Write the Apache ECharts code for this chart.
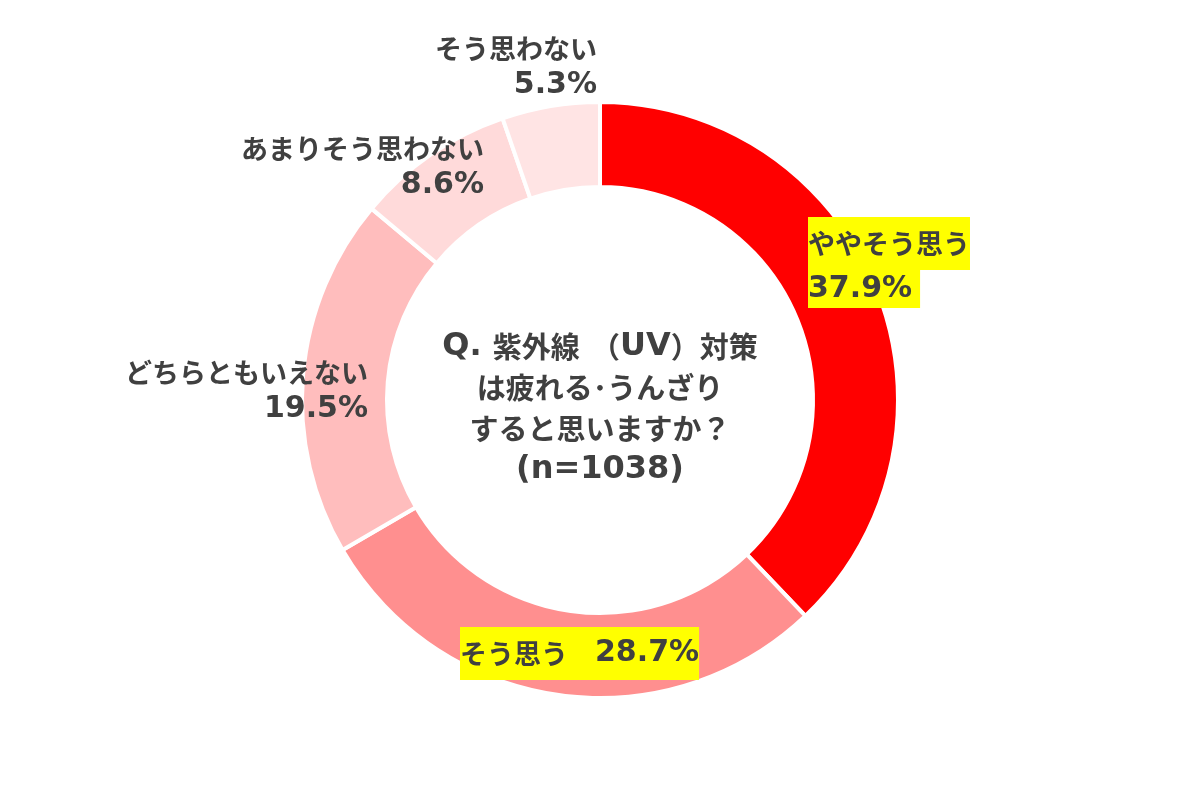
<!DOCTYPE html>
<html>
<head>
<meta charset="utf-8">
<script src="https://cdn.jsdelivr.net/npm/echarts@6/dist/echarts.min.js"></script>
<style>
html,body{margin:0;padding:0;background:#fff;}
#chart{width:1200px;height:800px;}
</style>
</head>
<body>
<div id="chart"></div>
<script>
// ---- data ----
const categories = ['ややそう思う', 'そう思う', 'どちらともいえない', 'あまりそう思わない', 'そう思わない'];
const values = [37.9, 28.7, 19.5, 8.6, 5.3];
const questionLines = ['Q. 紫外線（UV）対策', 'は疲れる･うんざり', 'すると思いますか？', '(n=1038)'];

// ---- styling / layout ----
const palette = ['#FF0000', '#FF8F8F', '#FFBDBD', '#FFDADA', '#FFE4E4'];
const labelPlacement = [
  { x: 808, y: 217, align: 'left',  yellow: true,  oneLine: false },
  { x: 460, y: 627, align: 'left',  yellow: true,  oneLine: true },
  { x: 368, y: 354, align: 'right', yellow: false, oneLine: false },
  { x: 484, y: 130, align: 'right', yellow: false, oneLine: false },
  { x: 597, y: 30,  align: 'right', yellow: false, oneLine: false }
];

const TXT = '#404040';
const YEL = '#FFFF00';
const JP = '"Noto Sans CJK JP", sans-serif';
const LAT = '"DejaVu Sans", "Noto Sans CJK JP", sans-serif';

const chart = echarts.init(document.getElementById('chart'));

function centerText() {
  return [
    '{l|Q. }{j|紫外線}{l| }{j|（}{l|UV}{j|）対策}',
    '{j|' + questionLines[1] + '}',
    '{j|' + questionLines[2] + '}',
    '{l|' + questionLines[3] + '}'
  ].join('\n');
}

const option = {
  backgroundColor: '#ffffff',
  animation: false,
  color: palette,
  title: {
    text: centerText(),
    left: 'center',
    top: 326,
    padding: 0,
    textStyle: {
      color: TXT,
      rich: {
        j: { fontFamily: JP, fontSize: 29, fontWeight: 'bold', color: TXT, lineHeight: 41 },
        l: { fontFamily: LAT, fontSize: 32, fontWeight: 'bold', color: TXT, lineHeight: 41 }
      }
    }
  },
  series: [{
    type: 'pie',
    center: ['50%', '50%'],
    radius: [213, 298],
    startAngle: 90,
    clockwise: true,
    avoidLabelOverlap: false,
    itemStyle: { borderColor: '#ffffff', borderWidth: 4 },
    emphasis: { disabled: true },
    labelLine: { show: false },
    label: {
      show: true,
      position: 'outside',
      formatter: function (p) {
        const cfg = labelPlacement[p.dataIndex];
        const pct = values[p.dataIndex].toFixed(1) + '%';
        if (cfg.yellow && cfg.oneLine) return '{jy|' + p.name + '\u3000}{nyb|' + pct + '}';
        if (cfg.yellow) return '{jy|' + p.name + '}\n{ny|' + pct + '}';
        return '{j|' + p.name + '}\n{n|' + pct + '}';
      },
      rich: {
        j:   { fontFamily: JP,  fontSize: 27, fontWeight: 'bold', color: TXT, lineHeight: 37 },
        n:   { fontFamily: LAT, fontSize: 30, fontWeight: 'bold', color: TXT, lineHeight: 37 },
        jy:  { fontFamily: JP,  fontSize: 27, fontWeight: 'bold', color: TXT, lineHeight: 53, padding: [13, 0, 13, 0], backgroundColor: YEL },
        ny:  { fontFamily: LAT, fontSize: 30, fontWeight: 'bold', color: TXT, lineHeight: 38, padding: [4, 8, 4, 0], backgroundColor: YEL },
        nyb: { fontFamily: LAT, fontSize: 30, fontWeight: 'bold', color: TXT, lineHeight: 53, padding: [11.5, 0, 11.5, 0], backgroundColor: YEL }
      }
    },
    labelLayout: function (params) {
      const cfg = labelPlacement[params.dataIndex];
      return { x: cfg.x, y: cfg.y, align: cfg.align, verticalAlign: 'top', hideOverlap: false };
    },
    data: categories.map(function (c, i) { return { name: c, value: values[i] }; })
  }]
};

chart.setOption(option);
</script>
</body>
</html>
